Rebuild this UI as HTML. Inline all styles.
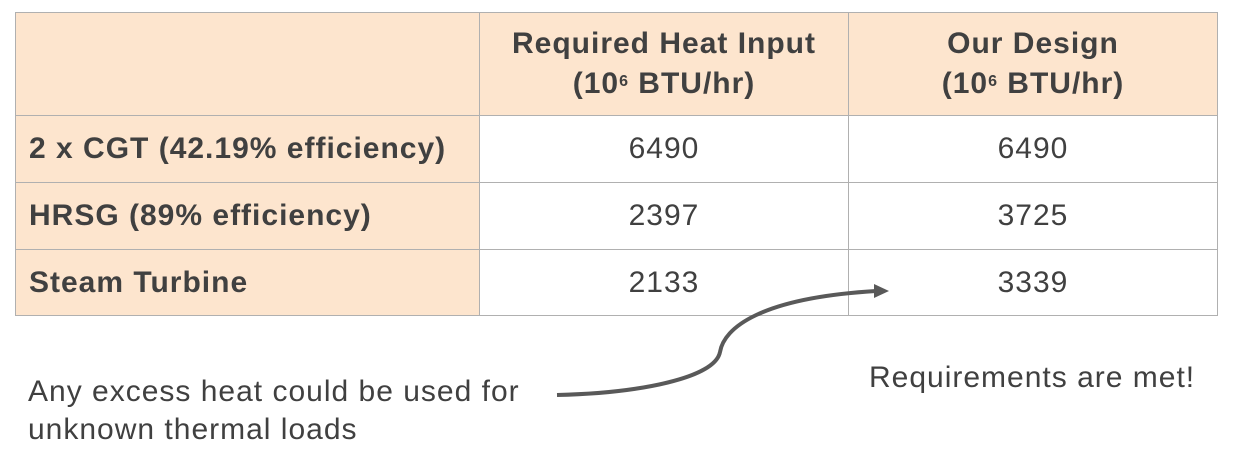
<!DOCTYPE html>
<html><head><meta charset="utf-8"><style>
body{margin:0;width:1254px;height:460px;background:#fff;position:relative;overflow:hidden;font-family:"Liberation Sans",sans-serif;color:#404040}
table{position:absolute;left:15px;top:12px;border-collapse:collapse;table-layout:fixed}
td{border:1.5px solid #b0b0b0;font-size:30px;letter-spacing:1px;text-align:center;padding:0;white-space:nowrap}
td.h{background:#fde5ce;font-weight:bold;line-height:40px}
td.l{background:#fde5ce;font-weight:bold;text-align:left;padding-left:13px}
sup{font-size:16px;vertical-align:top;position:relative;top:-2px}
.t{position:absolute;font-size:30px;letter-spacing:1px;line-height:38px;white-space:nowrap}
</style></head><body>
<table>
<tr style="height:103px"><td class="h" style="width:463px"></td><td class="h" style="width:368px">Required Heat Input<br>(10<sup>6</sup> BTU/hr)</td><td class="h" style="width:368px">Our Design<br>(10<sup>6</sup> BTU/hr)</td></tr>
<tr style="height:67px"><td class="l">2 x CGT (42.19% efficiency)</td><td>6490</td><td>6490</td></tr>
<tr style="height:67px"><td class="l">HRSG (89% efficiency)</td><td>2397</td><td>3725</td></tr>
<tr style="height:66px"><td class="l">Steam Turbine</td><td>2133</td><td>3339</td></tr>
</table>
<svg width="1254" height="460" style="position:absolute;left:0;top:0">
<path d="M557 395 C640 393 715 378 720 352 C724 328 760 298 876 291" fill="none" stroke="#595959" stroke-width="4"/>
<polygon points="874,284 889,291 874,298" fill="#595959"/>
</svg>
<div class="t" style="left:28px;top:373px">Any excess heat could be used for<br>unknown thermal loads</div>
<div class="t" style="left:869px;top:359px">Requirements are met!</div>
</body></html>
